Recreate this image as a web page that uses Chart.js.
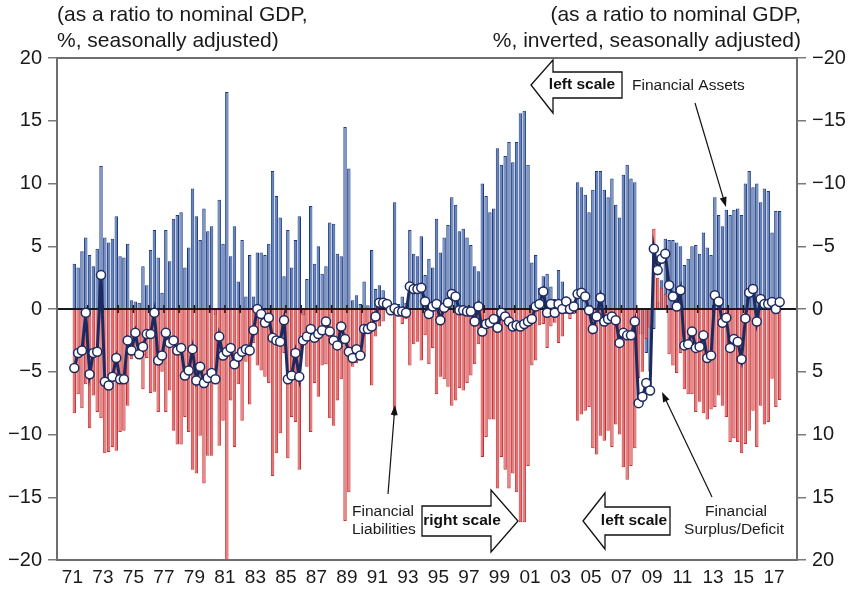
<!DOCTYPE html>
<html>
<head>
<meta charset="utf-8">
<script src="https://cdn.jsdelivr.net/npm/chart.js@4.4.1/dist/chart.umd.min.js"></script>
<style>
  html, body { margin: 0; padding: 0; background: #fff; }
  #wrap { width: 852px; height: 591px; }
</style>
</head>
<body>
<div id="wrap"><canvas id="flowChart"></canvas></div>
<script>
const FONT = "'Liberation Sans', Arial, sans-serif";

// quarterly series, 1971Q1 onwards (% of nominal GDP)
const firstYear = 1971;
const xTickYears = [1971, 1973, 1975, 1977, 1979, 1981, 1983, 1985, 1987, 1989, 1991, 1993,
  1995, 1997, 1999, 2001, 2003, 2005, 2007, 2009, 2011, 2013, 2015, 2017];
const yTicks = [-20, -15, -10, -5, 0, 5, 10, 15, 20];

// financial assets (left scale)
const assets = [
  3.6, 3.3, 4.6, 5.7,   4.3, 3.4, 4.8, 11.4,   5.7, 5.3, 5.6, 7.4,   4.2, 4.1, 5.2, 0.7,
  0.6, 0.5, 3.4, 1.9,   4.7, 6.3, 4.1, 1.3,    6.3, 3.8, 7.2, 7.5,   7.7, 3.3, 4.9, 9.6,
  7.4, 5.5, 8.0, 6.2,   6.6, -0.5, 8.7, 5.2,   17.3, 4.2, 6.6, 2.2,  5.5, 1.0, 4.3, 1.0,
  4.5, 4.5, 4.3, 5.2,   11.0, 9.0, 7.3, 2.6,   6.3, 3.3, 5.5, 7.4,   -0.5, 2.4, 8.2, 3.6,
  5.0, 2.8, 3.4, 6.9,   6.8, 4.4, 4.2, 14.5,   11.2, 0.7, 1.1, 0.4,  2.2, 0.3, 4.7, 1.6,
  1.9, 1.5, 0.5, -0.5,  8.5, 0.4, 1.0, 0.5,    6.3, 4.4, 4.2, 5.8,   2.7, 4.0, 3.3, 7.2,
  4.5, 5.7, 6.7, 8.9,   8.3, 6.2, 6.4, 5.7,    5.1, 3.4, 3.0, 10.0,  9.0, 7.7, 8.0, 12.8,
  11.5, 12.2, 13.3, 11.7, 13.3, 15.6, 15.8, 11.5, 3.7, 4.3, 1.7, 2.6, 2.8, 1.8, 0.8, 3.1,
  2.2, 1.0, 0.8, 0.6,   10.1, 9.7, 9.1, 7.7,   9.5, 11.0, 11.0, 9.5, 8.9, 10.4, 8.3, 7.3,
  10.7, 11.5, 10.4, 10.1, -2.0, -2.0, -3.5, -5.0, -1.6, 0.6, 2.3, 5.6, 5.5, 5.5, 5.3, 5.0,
  3.5, 4.0, 5.0, 5.1,   4.4, 6.1, 4.9, 4.3,    8.9, 7.5, 6.6, 7.9,   7.5, 7.9, 8.0, 7.5,
  10.0, 11.0, 9.7, 10.0, 8.5, 9.6, 9.4, 6.1,   7.8, 7.8
];

// financial liabilities (right scale, inverted)
const liabilities = [
  8.3, 6.8, 7.9, 6.0,   9.5, 6.9, 8.2, 8.7,    11.5, 11.4, 11.0, 11.3, 9.8, 9.7, 7.7, 4.0,
  3.0, 4.0, 6.4, 3.9,   6.7, 6.6, 8.2, 5.0,    8.2, 6.5, 9.7, 10.8,  10.8, 8.6, 9.8, 12.8,
  13.1, 10.1, 13.9, 11.7, 11.7, 6.0, 10.9, 8.9, 21.0, 7.3, 11.0, 6.0, 8.9, 4.2, 7.6, 2.7,
  4.5, 4.9, 5.4, 5.9,   13.3, 11.5, 9.9, 3.5,  11.9, 8.6, 9.0, 12.8,  2.0, 4.6, 9.8, 5.9,
  7.0, 4.5, 4.4, 8.7,   9.3, 7.3, 5.6, 16.9,   14.6, 4.6, 4.3, 4.1,  3.8, 1.9, 6.1, 2.2,
  1.4, 1.0, 0.1, -0.4,  8.5, 0.6, 1.2, 0.8,    4.5, 2.8, 2.6, 4.1,   2.1, 4.4, 3.1, 6.8,
  5.4, 5.6, 6.2, 7.7,   7.3, 6.3, 6.5, 5.9,    5.3, 4.4, 2.8, 11.8,  10.2, 8.8, 8.8, 14.3,
  11.8, 12.8, 14.3, 13.1, 14.6, 17.0, 17.0, 12.5, 4.5, 4.1, 1.3, 1.2, 3.1, 1.4, 1.1, 2.7,
  2.2, 0.4, 0.8, 0.4,   8.9, 8.4, 8.1, 7.8,    11.1, 11.6, 10.1, 10.5, 9.7, 11.0, 9.2, 10.0,
  12.6, 13.6, 12.5, 11.1, 5.5, 5.0, 2.4, 1.5,  -6.4, -2.5, -1.7, -1.2, 3.6, 4.5, 5.1, 3.5,
  6.4, 6.8, 6.8, 8.2,   7.4, 8.3, 8.8, 8.0,    7.8, 6.9, 7.7, 8.6,   10.6, 10.3, 10.6, 11.5,
  10.75, 9.7, 8.1, 11.0, 7.7, 9.2, 9.0, 5.55,  7.8, 7.25
];

// financial surplus/deficit (left scale)
const balance = [
  -4.7, -3.5, -3.3, -0.3, -5.2, -3.5, -3.4, 2.7, -5.8, -6.1, -5.4, -3.9, -5.6, -5.6, -2.5, -3.3,
  -1.9, -3.6, -3.0, -2.0, -2.0, -0.3, -4.1, -3.7, -1.9, -2.7, -2.5, -3.3, -3.1, -5.3, -4.9, -3.2,
  -5.7, -4.6, -5.9, -5.5, -5.1, -5.6, -2.2, -3.7, -3.4, -3.1, -4.4, -3.8, -3.4, -3.2, -3.3, -1.7,
  0.0, -0.4, -1.1, -0.7,  -2.3, -2.5, -2.6, -0.9, -5.6, -5.3, -3.5, -5.4, -2.5, -2.2, -1.6, -2.3,
  -2.0, -1.7, -1.0, -1.8, -2.5, -2.9, -1.4, -2.4, -3.4, -3.9, -3.2, -3.7, -1.6, -1.6, -1.4, -0.6,
  0.5, 0.5, 0.4, -0.1,    0.05, -0.2, -0.2, -0.3, 1.8, 1.6, 1.6, 1.7,     0.6, -0.4, 0.2, 0.4,
  -0.9, 0.1, 0.5, 1.2,    1.0, -0.1, -0.1, -0.2,  -0.2, -1.0, 0.2, -1.8,  -1.2, -1.1, -0.8, -1.5,
  -0.3, -0.6, -1.0, -1.4, -1.3, -1.4, -1.2, -1.0, -0.8, 0.2, 0.4, 1.4,    -0.3, 0.4, -0.3, 0.4,
  0.0, 0.6, 0.0, 0.2,     1.2, 1.3, 1.0, -0.1,    -1.6, -0.6, 0.9, -1.0,  -0.8, -0.6, -0.9, -2.7,
  -1.9, -2.1, -2.1, -1.0, -7.5, -7.0, -5.9, -6.5, 4.8, 3.1, 4.0, 4.4,     1.9, 1.0, 0.2, 1.5,
  -2.9, -2.8, -1.8, -3.1, -3.0, -2.1, -3.9, -3.7, 1.1, 0.6, -1.1, -0.7,   -3.1, -2.4, -2.6, -4.0,
  -0.75, 1.3, 1.6, -1.0,  0.8, 0.4, 0.4, 0.55,    0.0, 0.55
];

const xOf = i => firstYear + i / 4 + 0.125;
const toPoints = arr => arr.map((v, i) => ({ x: xOf(i), y: v }));
const minus = v => (v < 0 ? '\u2212' + Math.abs(v) : String(v));

function pointer(ctx, x1, y1, x2, y2) {
  const a = Math.atan2(y2 - y1, x2 - x1), L = 10, W = 3.5;
  ctx.strokeStyle = '#111';
  ctx.lineWidth = 1.2;
  ctx.beginPath();
  ctx.moveTo(x1, y1);
  ctx.lineTo(x2 - L * 0.8 * Math.cos(a), y2 - L * 0.8 * Math.sin(a));
  ctx.stroke();
  ctx.beginPath();
  ctx.moveTo(x2, y2);
  ctx.lineTo(x2 - L * Math.cos(a) + W * Math.sin(a), y2 - L * Math.sin(a) - W * Math.cos(a));
  ctx.lineTo(x2 - L * Math.cos(a) - W * Math.sin(a), y2 - L * Math.sin(a) + W * Math.cos(a));
  ctx.closePath();
  ctx.fillStyle = '#111';
  ctx.fill();
}

function blockArrow(ctx, pts, text, tx, ty) {
  ctx.beginPath();
  pts.forEach((p, k) => (k ? ctx.lineTo(p[0], p[1]) : ctx.moveTo(p[0], p[1])));
  ctx.closePath();
  ctx.fillStyle = '#fff';
  ctx.fill();
  ctx.strokeStyle = '#111';
  ctx.lineWidth = 1.3;
  ctx.stroke();
  ctx.fillStyle = '#111';
  ctx.font = 'bold 15.5px ' + FONT;
  ctx.textAlign = 'center';
  ctx.textBaseline = 'middle';
  ctx.fillText(text, tx, ty);
}

const decor = {
  id: 'decor',
  beforeDatasetDraw(chart, args) {
    if (args.meta.type !== 'line') return;
    const { ctx, chartArea: a, scales } = chart;
    const y0 = scales.y.getPixelForValue(0);
    ctx.save();
    ctx.strokeStyle = '#1a1a1a';
    ctx.lineWidth = 2;
    ctx.beginPath();
    ctx.moveTo(a.left, y0);
    ctx.lineTo(a.right, y0);
    ctx.stroke();
    ctx.lineWidth = 1.5;
    for (let yr = firstYear + 1; yr <= 2017; yr++) {
      const x = scales.x.getPixelForValue(yr);
      ctx.beginPath();
      ctx.moveTo(x, y0 - 4);
      ctx.lineTo(x, y0 + 4);
      ctx.stroke();
    }
    ctx.restore();
  },
  afterDatasetsDraw(chart) {
    const { ctx, chartArea: a } = chart;
    ctx.save();
    ctx.strokeStyle = '#6e6e6e';
    ctx.lineWidth = 2;
    ctx.strokeRect(a.left, a.top, a.right - a.left, a.bottom - a.top);
    ctx.restore();
  },
  afterDraw(chart) {
    const ctx = chart.ctx;
    ctx.save();
    ctx.fillStyle = '#1a1a1a';
    ctx.font = '21px ' + FONT;
    ctx.textBaseline = 'middle';
    ctx.textAlign = 'left';
    ctx.fillText('(as a ratio to nominal GDP,', 57, 15);
    ctx.fillText('%, seasonally adjusted)', 57, 41);
    ctx.textAlign = 'right';
    ctx.fillText('(as a ratio to nominal GDP,', 801, 15);
    ctx.fillText('%, inverted, seasonally adjusted)', 801, 41);

    blockArrow(ctx, [[531, 85], [553, 60], [553, 72], [622, 72], [622, 98], [553, 98], [553, 113]],
      'left scale', 582, 85);
    blockArrow(ctx, [[422, 506], [491, 506], [491, 490], [518, 521], [491, 552], [491, 536], [422, 536]],
      'right scale', 462, 521);
    blockArrow(ctx, [[583, 521], [605, 493], [605, 507], [670, 507], [670, 535], [605, 535], [605, 549]],
      'left scale', 634, 521);

    ctx.fillStyle = '#1a1a1a';
    ctx.font = '15.5px ' + FONT;
    ctx.textBaseline = 'middle';
    ctx.textAlign = 'left';
    ctx.fillText('Financial Assets', 632, 86);
    ctx.fillText('Financial', 352, 512);
    ctx.fillText('Liabilities', 352, 530);
    ctx.textAlign = 'center';
    ctx.fillText('Financial', 736, 512);
    ctx.fillText('Surplus/Deficit', 734, 530);

    pointer(ctx, 695, 103, 726, 207);
    pointer(ctx, 388, 494, 395, 405);
    pointer(ctx, 712, 497, 662, 392);
    ctx.restore();
  }
};

const tickFont = { family: FONT, size: 20 };
const axisGrid = { drawOnChartArea: false, drawTicks: true, tickLength: 9, color: '#7a7a7a', lineWidth: 1.5 };

new Chart(document.getElementById('flowChart'), {
  type: 'bar',
  data: {
    datasets: [
      {
        type: 'line',
        label: 'Financial Surplus/Deficit',
        data: toPoints(balance),
        yAxisID: 'y',
        borderColor: '#1d2a60',
        borderWidth: 3,
        pointRadius: 4.5,
        pointBorderWidth: 1.5,
        pointBackgroundColor: '#fff',
        pointBorderColor: '#1d2a60',
        tension: 0,
        order: 0
      },
      {
        label: 'Financial Liabilities',
        data: toPoints(liabilities),
        yAxisID: 'y2',
        backgroundColor: '#de7474',
        borderColor: '#cc2f33',
        borderWidth: 1,
        grouped: false,
        barPercentage: 0.9,
        categoryPercentage: 1,
        order: 1
      },
      {
        label: 'Financial Assets',
        data: toPoints(assets),
        yAxisID: 'y',
        backgroundColor: '#6685bb',
        borderColor: '#1b3880',
        borderWidth: 1,
        grouped: false,
        barPercentage: 0.9,
        categoryPercentage: 1,
        order: 2
      }
    ]
  },
  options: {
    responsive: true,
    maintainAspectRatio: false,
    animation: false,
    devicePixelRatio: 1,
    layout: { padding: { top: 58, left: 0, right: 0, bottom: 0 } },
    plugins: {
      legend: { display: false },
      tooltip: { enabled: false }
    },
    scales: {
      x: {
        type: 'linear',
        min: firstYear,
        max: 2017.5,
        afterBuildTicks: s => { s.ticks = xTickYears.map(v => ({ value: v })); },
        afterFit: s => { s.height = 31; },
        grid: { display: false, drawTicks: false },
        border: { display: false },
        ticks: {
          autoSkip: false,
          maxRotation: 0,
          padding: 6,
          color: '#1a1a1a',
          font: { family: FONT, size: 19 },
          callback: v => String(v).slice(2)
        }
      },
      y: {
        position: 'left',
        min: -20,
        max: 20,
        afterBuildTicks: s => { s.ticks = yTicks.map(v => ({ value: v })); },
        afterFit: s => { s.width = 57; },
        grid: axisGrid,
        border: { display: false },
        ticks: { padding: 6, color: '#1a1a1a', font: tickFont, callback: minus }
      },
      y2: {
        position: 'right',
        reverse: true,
        min: -20,
        max: 20,
        afterBuildTicks: s => { s.ticks = yTicks.map(v => ({ value: v })); },
        afterFit: s => { s.width = 55; },
        grid: axisGrid,
        border: { display: false },
        ticks: { padding: 6, color: '#1a1a1a', font: tickFont, callback: minus }
      }
    }
  },
  plugins: [decor]
});
</script>
</body>
</html>
